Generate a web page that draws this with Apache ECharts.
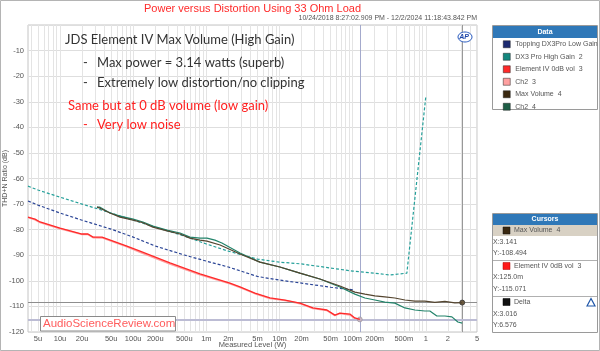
<!DOCTYPE html>
<html><head><meta charset="utf-8">
<script src="https://cdn.jsdelivr.net/npm/echarts@6/dist/echarts.min.js"></script>
<style>html,body{margin:0;padding:0;background:#fff}#c{width:600px;height:351px}</style>
</head><body><div id="c"></div>
<script>
// ---- axis ticks ----
const tickWatts = [5e-6,1e-5,2e-5,5e-5,1e-4,2e-4,5e-4,1e-3,2e-3,5e-3,1e-2,2e-2,5e-2,0.1,0.2,0.5,1,2,5];
const tickLabels = ['5u','10u','20u','50u','100u','200u','500u','1m','2m','5m','10m','20m','50m','100m','200m','500m','1','2','5'];
const xMinW = 3.65e-6, xMaxW = 5;

// ---- series data (x in W, y in dB) ----
const toppingX = [3.65e-6,5e-6,1e-5,2e-5,5e-5,1e-4,2e-4,5e-4,1e-3,2e-3,5e-3,1e-2,2e-2,5e-2,0.107];
const toppingY = [-68.8,-70.4,-73.5,-76.3,-79.8,-82.9,-86.4,-89.9,-92.3,-94.6,-98.3,-99.7,-100.9,-102.5,-103.6];

const dx3HighX = [3.65e-6,5e-6,1e-5,2e-5,5e-5,1e-4,2e-4,5e-4,1e-3,2e-3,5e-3,1e-2,2e-2,5e-2,0.1,0.2,0.32,0.55,1.0];
const dx3HighY = [-63.0,-64.5,-67.3,-70.0,-73.5,-76.3,-79.0,-82.5,-85.6,-88.4,-91.5,-92.7,-93.4,-95.0,-96.2,-97.0,-97.7,-97.0,-27.8];

const elemX = [3.65e-6,4.55e-6,5.33e-6,1e-5,2e-5,2.41e-5,2.83e-5,3.75e-5,8.2e-5,1.24e-4,3.18e-4,8.18e-4,2.1e-3,2.88e-3,4.61e-3,7.4e-3,1.19e-2,1.9e-2,2.86e-2,4.44e-2,5.71e-2,6.69e-2,9.16e-2,0.107,0.125];
const elemY = [-75.1,-75.9,-77.0,-79.4,-81.7,-81.7,-82.9,-82.9,-86.4,-88.4,-93.0,-97.3,-100.9,-102.4,-104.8,-106.7,-107.5,-108.7,-110.6,-111.4,-113.4,-112.6,-113.0,-114.5,-115.071];
const elemCh2Y = [-75.2,-76.1,-77.2,-79.6,-81.9,-81.9,-83.1,-83.2,-86.7,-88.8,-93.4,-97.6,-101.1,-102.6,-105.0,-106.9,-107.7,-108.9,-110.8,-111.6,-113.6,-112.8,-113.3,-114.8,-115.3];

const maxVolX = [3.2e-5,3.52e-5,4.82e-5,6.6e-5,1e-4,1.36e-4,1.86e-4,2.9e-4,4.36e-4,5.97e-4,8.18e-4,1.02e-3,1.54e-3,2.88e-3,5.4e-3,1.01e-2,1.9e-2,3.56e-2,6.69e-2,0.107,0.147,0.201,0.275,0.377,0.517,0.708,0.969,1.327,1.82,2.49,3.141];
const maxVolY = [-71.2,-71.6,-73.5,-75.1,-76.3,-77.3,-79.0,-80.5,-81.7,-83.3,-84.1,-84.5,-86.0,-89.5,-92.7,-94.6,-97.0,-99.3,-102.0,-104.4,-105.2,-105.9,-106.3,-106.7,-107.5,-107.9,-107.9,-108.4,-108.0,-108.6,-108.494];

const maxCh2X = [3.2e-5,3.52e-5,4.82e-5,6.6e-5,1e-4,1.36e-4,1.86e-4,2.9e-4,4.36e-4,5.97e-4,8.18e-4,1.02e-3,1.31e-3,1.63e-3,2.88e-3,5.4e-3,1.01e-2,1.9e-2,3.56e-2,6.69e-2,0.107,0.147,0.201,0.275,0.377,0.517,0.708,0.969,1.134,1.413,1.82,2.27,2.74,3.141];
const maxCh2Y = [-71.2,-71.2,-73.5,-74.7,-75.9,-77.0,-78.6,-80.2,-81.3,-82.9,-83.3,-83.3,-84.1,-85.2,-89.1,-92.7,-94.6,-97.0,-99.3,-102.4,-105.2,-106.7,-107.5,-108.3,-108.7,-110.6,-111.4,-111.8,-111.8,-113.75,-113.75,-114.1,-116.1,-116.5];

// cursors
const cursorA = [3.141, -108.494];
const cursorB = [0.125, -115.071];

// ---- build ----
const L = Math.log10;
const pts = (xs, ys) => xs.map((x, i) => [L(x), ys[i]]);
const gridVals = [];
for (let n = -6; n <= 0; n++) for (let k = 1; k <= 9; k++) {
  const v = k * Math.pow(10, n);
  if (v >= xMinW * 0.999 && v <= xMaxW * 1.001) gridVals.push(L(v));
}
const tickLogs = tickWatts.map(L);

function ls(name, xs, ys, color, extra) {
  return Object.assign({
    name, type: 'line', data: pts(xs, ys), symbol: 'none', showSymbol: false,
    lineStyle: {color, width: 1.2}, itemStyle: {color}, animation: false, silent: true
  }, extra || {});
}

const txtFont = '13px Lato';
const small = '7px "Liberation Sans"';
const gray = '#555';
const blue = '#2f78b8';

const option = {
  animation: false,
  backgroundColor: '#fff',
  grid: {left: 28, right: 123, top: 25, bottom: 19, outerBoundsMode: 'none', containLabel: false,
    show: true, borderColor: '#c4c4c4', borderWidth: 1, backgroundColor: '#fff'},
  xAxis: {
    type: 'value', min: L(xMinW), max: L(xMaxW),
    name: 'Measured Level (W)', nameLocation: 'middle', nameGap: 9, nameMoveOverlap: false,
    nameTextStyle: {color: gray, fontSize: 7.5, fontFamily: 'Liberation Sans'},
    axisLine: {show: false},
    axisTick: {show: false, customValues: gridVals},
    axisLabel: {
      customValues: tickLogs, color: gray, fontSize: 7.5, fontFamily: 'Liberation Sans', margin: 3,
      formatter: v => { for (let i = 0; i < tickLogs.length; i++) if (Math.abs(tickLogs[i] - v) < 1e-6) return tickLabels[i]; return ''; }
    },
    splitLine: {show: true, lineStyle: {color: '#e4e4e4', width: 1}}
  },
  yAxis: {
    type: 'value', min: -120, max: 0, interval: 10,
    name: 'THD+N Ratio (dB)', nameLocation: 'middle', nameGap: 19, nameMoveOverlap: false,
    nameTextStyle: {color: gray, fontSize: 7, fontFamily: 'Liberation Sans'},
    axisLine: {show: false}, axisTick: {show: false},
    axisLabel: {color: gray, fontSize: 7.5, fontFamily: 'Liberation Sans', margin: 4, formatter: v => v === 0 ? '' : String(v)},
    splitLine: {show: true, lineStyle: {color: '#dedede', width: 1}}
  },
  legend: {
    orient: 'vertical', left: 503, top: 40.5, itemWidth: 7, itemHeight: 7, itemGap: 5, padding: 0,
    icon: 'rect', selectedMode: false,
    itemStyle: {borderColor: '#222', borderWidth: 0.5},
    textStyle: {color: gray, fontSize: 7, lineHeight: 7, fontFamily: 'Liberation Sans'},
    data: ['Topping DX3Pro Low Gain', 'DX3 Pro High Gain  2', 'Element IV 0dB vol  3', 'Ch2  3', 'Max Volume  4', 'Ch2  4']
  },
  series: [
    ls('Topping DX3Pro Low Gain', toppingX, toppingY, '#2b4596', {
      lineStyle: {color: '#2b4596', width: 1.2, type: [3, 2]}, itemStyle: {color: '#1c2a70'}, z: 3,
      markLine: {
        silent: true, symbol: ['none', 'none'], label: {show: false}, animation: false,
        data: [
          {xAxis: L(cursorA[0]), lineStyle: {color: '#989898', width: 1, type: 'solid'}},
          {xAxis: L(cursorB[0]), lineStyle: {color: '#a4aacc', width: 1, type: 'solid'}},
          {yAxis: cursorA[1], lineStyle: {color: '#8e8e8e', width: 1, type: 'solid'}},
          {yAxis: cursorB[1], lineStyle: {color: '#bcbcd4', width: 2, type: 'solid'}}
        ]
      }
    }),
    ls('DX3 Pro High Gain  2', dx3HighX, dx3HighY, '#25a09a', {
      lineStyle: {color: '#25a09a', width: 1.2, type: [3, 2]}, itemStyle: {color: '#13877e'}, z: 3
    }),
    ls('Element IV 0dB vol  3', elemX, elemY, '#ff2a2a', {lineStyle: {color: '#ff2a2a', width: 1.3}, z: 5,
      markPoint: {symbol: 'circle', symbolSize: 5, silent: true, animation: false, label: {show: false},
        itemStyle: {color: '#c8b4c4', borderColor: '#888', borderWidth: 0.5},
        data: [{coord: [L(cursorB[0]), cursorB[1]]}]}
    }),
    ls('Ch2  3', elemX, elemCh2Y, '#ffa0a0', {lineStyle: {color: '#ffa0a0', width: 1.6}, z: 4}),
    ls('Max Volume  4', maxVolX, maxVolY, '#54452f', {itemStyle: {color: '#3a2810'}, z: 7,
      markPoint: {symbol: 'circle', symbolSize: 5, silent: true, animation: false, label: {show: false},
        itemStyle: {color: '#6b5a40', borderColor: '#333', borderWidth: 0.8},
        data: [{coord: [L(cursorA[0]), cursorA[1]]}]}
    }),
    ls('Ch2  4', maxCh2X, maxCh2Y, '#22836a', {itemStyle: {color: '#1d5e46'}, z: 6})
  ],
  graphic: [
    {type: 'rect', z: 0, silent: true, shape: {x: 0.5, y: 0.5, width: 599, height: 350}, style: {fill: 'none', stroke: '#b4b4b4', lineWidth: 1}},
    {type: 'text', z: 10, silent: true, style: {x: 252.5, y: 8.5, text: 'Power versus Distortion Using 33 Ohm Load', fill: '#ff2a2a', font: '11px "Liberation Sans"', align: 'center', verticalAlign: 'middle'}},
    {type: 'text', z: 10, silent: true, style: {x: 477, y: 18.5, text: '10/24/2018 8:27:02.909 PM - 12/2/2024 11:18:43.842 PM', fill: gray, font: small, align: 'right', verticalAlign: 'middle'}},
    {type: 'text', z: 10, silent: true, style: {x: 65, y: 40, text: 'JDS Element IV Max Volume (High Gain)', fill: '#333', font: txtFont, verticalAlign: 'middle'}},
    {type: 'text', z: 10, silent: true, style: {x: 83, y: 63, text: '-', fill: '#333', font: txtFont, verticalAlign: 'middle'}},
    {type: 'text', z: 10, silent: true, style: {x: 97, y: 63, text: 'Max power = 3.14 watts (superb)', fill: '#333', font: txtFont, verticalAlign: 'middle'}},
    {type: 'text', z: 10, silent: true, style: {x: 83, y: 83, text: '-', fill: '#333', font: txtFont, verticalAlign: 'middle'}},
    {type: 'text', z: 10, silent: true, style: {x: 97, y: 83, text: 'Extremely low distortion/no clipping', fill: '#333', font: txtFont, verticalAlign: 'middle'}},
    {type: 'text', z: 10, silent: true, style: {x: 68, y: 106, text: 'Same but at 0 dB volume (low gain)', fill: '#ff2020', font: txtFont, verticalAlign: 'middle'}},
    {type: 'text', z: 10, silent: true, style: {x: 83, y: 125, text: '-', fill: '#ff2020', font: txtFont, verticalAlign: 'middle'}},
    {type: 'text', z: 10, silent: true, style: {x: 97, y: 125, text: 'Very low noise', fill: '#ff2020', font: txtFont, verticalAlign: 'middle'}},
    {type: 'ellipse', z: 10, silent: true, shape: {cx: 465, cy: 37, rx: 7, ry: 5}, style: {fill: '#fff', stroke: '#2a5cc0', lineWidth: 1}},
    {type: 'text', z: 11, silent: true, style: {x: 464, y: 37, text: 'AP', fill: '#1a44a8', font: 'italic bold 7px "Liberation Sans"', align: 'center', verticalAlign: 'middle'}},
    {type: 'rect', z: 10, silent: true, shape: {x: 40.5, y: 316.5, width: 135, height: 14.5}, style: {fill: '#fff', stroke: '#8a8a8a', lineWidth: 1}},
    {type: 'text', z: 11, silent: true, style: {x: 43, y: 324, text: 'AudioScienceReview.com', fill: '#ff5c5c', font: '11.5px "Liberation Sans"', verticalAlign: 'middle'}},
    {type: 'rect', z: 1, silent: true, shape: {x: 492.5, y: 25.5, width: 105, height: 84}, style: {fill: '#fff', stroke: '#9a9a9a', lineWidth: 1}},
    {type: 'rect', z: 2, silent: true, shape: {x: 493, y: 26, width: 104, height: 12}, style: {fill: blue}},
    {type: 'text', z: 3, silent: true, style: {x: 545, y: 32, text: 'Data', fill: '#fff', font: 'bold 7px "Liberation Sans"', align: 'center', verticalAlign: 'middle'}},
    {type: 'rect', z: 1, silent: true, shape: {x: 492.5, y: 213.5, width: 105, height: 119}, style: {fill: '#fff', stroke: '#9a9a9a', lineWidth: 1}},
    {type: 'rect', z: 2, silent: true, shape: {x: 493, y: 214, width: 104, height: 11}, style: {fill: blue}},
    {type: 'text', z: 3, silent: true, style: {x: 545, y: 219.5, text: 'Cursors', fill: '#fff', font: 'bold 7px "Liberation Sans"', align: 'center', verticalAlign: 'middle'}},
    {type: 'rect', z: 2, silent: true, shape: {x: 493, y: 225, width: 104, height: 11}, style: {fill: '#d8d1c4'}},
    {type: 'rect', z: 3, silent: true, shape: {x: 503, y: 227, width: 7, height: 7}, style: {fill: '#3a2810', stroke: '#111', lineWidth: 0.5}},
    {type: 'text', z: 3, silent: true, style: {x: 514, y: 230.5, text: 'Max Volume  4', fill: gray, font: small, verticalAlign: 'middle'}},
    {type: 'text', z: 3, silent: true, style: {x: 493, y: 241.7, text: 'X:3.141', fill: gray, font: small, verticalAlign: 'middle'}},
    {type: 'text', z: 3, silent: true, style: {x: 493, y: 252.7, text: 'Y:-108.494', fill: gray, font: small, verticalAlign: 'middle'}},
    {type: 'line', z: 3, silent: true, shape: {x1: 493, y1: 260.5, x2: 597, y2: 260.5}, style: {stroke: '#b0b0b0', lineWidth: 1}},
    {type: 'rect', z: 3, silent: true, shape: {x: 503, y: 262.5, width: 7, height: 7}, style: {fill: '#ff1a1a', stroke: '#aa0000', lineWidth: 0.5}},
    {type: 'text', z: 3, silent: true, style: {x: 514, y: 266, text: 'Element IV 0dB vol  3', fill: gray, font: small, verticalAlign: 'middle'}},
    {type: 'text', z: 3, silent: true, style: {x: 493, y: 277.3, text: 'X:125.0m', fill: gray, font: small, verticalAlign: 'middle'}},
    {type: 'text', z: 3, silent: true, style: {x: 493, y: 289, text: 'Y:-115.071', fill: gray, font: small, verticalAlign: 'middle'}},
    {type: 'line', z: 3, silent: true, shape: {x1: 493, y1: 296.5, x2: 597, y2: 296.5}, style: {stroke: '#b0b0b0', lineWidth: 1}},
    {type: 'rect', z: 3, silent: true, shape: {x: 503, y: 298.5, width: 7, height: 7}, style: {fill: '#111', stroke: '#000', lineWidth: 0.5}},
    {type: 'text', z: 3, silent: true, style: {x: 514, y: 302.3, text: 'Delta', fill: gray, font: small, verticalAlign: 'middle'}},
    {type: 'polygon', z: 3, silent: true, shape: {points: [[587, 306], [591, 298.5], [595, 306]]}, style: {fill: 'none', stroke: '#1f56a8', lineWidth: 1.2}},
    {type: 'text', z: 3, silent: true, style: {x: 493, y: 314, text: 'X:3.016', fill: gray, font: small, verticalAlign: 'middle'}},
    {type: 'text', z: 3, silent: true, style: {x: 493, y: 325, text: 'Y:6.576', fill: gray, font: small, verticalAlign: 'middle'}}
  ]
};
const chart = echarts.init(document.getElementById('c'), null, {renderer: 'canvas'});
chart.setOption(option);
</script>
</body></html>
